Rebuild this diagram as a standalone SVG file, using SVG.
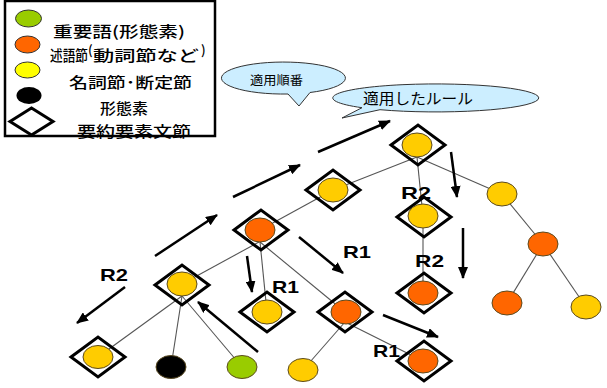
<svg xmlns="http://www.w3.org/2000/svg" width="607" height="388" viewBox="0 0 607 388">
<defs>
<style>
.jp{font-family:"Noto Sans CJK JP","Noto Sans",sans-serif;fill:#000}
.lg{font-weight:500}
.lbl{font-family:"Liberation Sans",Arial,sans-serif;font-weight:bold;font-size:17px;fill:#000}
.dia{fill:none;stroke:#000;stroke-width:3;stroke-linejoin:miter}
.c{stroke:#5a4a20;stroke-width:1}
.y{fill:#FFCC00}.o{fill:#FF6600}.g{fill:#99CC00}.k{fill:#000}
.edge{stroke:#555;stroke-width:1.1;fill:none}
.arr{stroke:#000;stroke-width:2.5;fill:none;marker-end:url(#ah)}
.bub{fill:#CCEEFF;stroke:#333;stroke-width:1}
</style>
<marker id="ah" markerUnits="userSpaceOnUse" markerWidth="12" markerHeight="10" refX="11" refY="5" orient="auto">
<path d="M0,0 L12,5 L0,10 Z" fill="#000"/>
</marker>
<polygon id="dm" points="-27,0 0,-20 27,0 0,20"/>
</defs>
<rect width="607" height="388" fill="#fff"/>

<g id="legend">
<rect x="5" y="1" width="210" height="135" fill="#fff" stroke="#000" stroke-width="2.5"/>
<ellipse cx="28.5" cy="18.5" rx="13" ry="8.5" fill="#99CC00" stroke="#333" stroke-width="1"/>
<ellipse cx="27.5" cy="44.5" rx="12.5" ry="8.5" fill="#FF6600" stroke="#333" stroke-width="1"/>
<ellipse cx="27.5" cy="70" rx="12.5" ry="8" fill="#FFFF00" stroke="#333" stroke-width="1"/>
<ellipse cx="29" cy="95.5" rx="12.5" ry="8.5" fill="#000"/>
<polygon points="10,121.5 31.5,108 53,121.5 31.5,135" fill="#fff" stroke="#000" stroke-width="3"/>
<text class="jp lg" x="53" y="37" font-size="15" textLength="132" lengthAdjust="spacingAndGlyphs">重要語(形態素)</text>
<text class="jp lg" font-size="15"><tspan x="50" y="61" textLength="38" lengthAdjust="spacingAndGlyphs">述語節</tspan><tspan x="88" y="55" font-size="13">(</tspan><tspan x="93" y="61" textLength="106" lengthAdjust="spacingAndGlyphs">動詞節など</tspan><tspan x="201" y="55" font-size="13">)</tspan></text>
<text class="jp lg" x="69" y="88" font-size="15" textLength="123" lengthAdjust="spacingAndGlyphs">名詞節･断定節</text>
<text class="jp lg" x="100" y="114" font-size="15" textLength="48" lengthAdjust="spacingAndGlyphs">形態素</text>
<text class="jp lg" x="77" y="137" font-size="15" textLength="114" lengthAdjust="spacingAndGlyphs">要約要素文節</text>
</g>

<g id="callout-order">
<path class="bub" d="M288,94 A62,16 0 1 1 310,92.5 L299,106 Z"/>
<text class="jp" x="250" y="85" font-size="12.5" textLength="53" lengthAdjust="spacingAndGlyphs">適用順番</text>
</g>
<g id="callout-rule">
<path class="bub" d="M380,109.7 A103,14 0 1 0 362,107.7 L342,118 Z"/>
<text class="jp" x="363" y="104" font-size="15" textLength="110" lengthAdjust="spacingAndGlyphs">適用したルール</text>
</g>

<g id="edges">
<line class="edge" x1="182" y1="296" x2="98" y2="357"/>
<line class="edge" x1="182" y1="296" x2="171" y2="367"/>
<line class="edge" x1="182" y1="296" x2="242" y2="367"/>
<line class="edge" x1="259" y1="242" x2="182" y2="284"/>
<line class="edge" x1="260" y1="242" x2="267" y2="312"/>
<line class="edge" x1="260" y1="242" x2="345" y2="312"/>
<line class="edge" x1="333" y1="190" x2="260" y2="230"/>
<line class="edge" x1="417" y1="157" x2="333" y2="190"/>
<line class="edge" x1="417" y1="157" x2="423" y2="216"/>
<line class="edge" x1="417" y1="157" x2="502" y2="194"/>
<line class="edge" x1="423" y1="216" x2="423" y2="293"/>
<line class="edge" x1="345" y1="322" x2="303" y2="370"/>
<line class="edge" x1="345" y1="322" x2="423" y2="361"/>
<line class="edge" x1="502" y1="194" x2="543" y2="244"/>
<line class="edge" x1="543" y1="244" x2="507" y2="303"/>
<line class="edge" x1="543" y1="244" x2="586" y2="307"/>
</g>

<g id="arrows">
<line class="arr" x1="125" y1="287" x2="77" y2="323"/>
<line class="arr" x1="155" y1="256" x2="217" y2="215"/>
<line class="arr" x1="233" y1="197" x2="300" y2="165"/>
<line class="arr" x1="247" y1="256" x2="252" y2="292"/>
<line class="arr" x1="258" y1="352" x2="198" y2="302"/>
<line class="arr" x1="299" y1="237" x2="343" y2="273"/>
<line class="arr" x1="318" y1="152" x2="390" y2="121"/>
<line class="arr" x1="451" y1="152" x2="457" y2="197"/>
<line class="arr" x1="463" y1="228" x2="463" y2="278"/>
<line class="arr" x1="383" y1="315" x2="438" y2="337"/>
</g>

<g id="nA"><use href="#dm" class="dia" transform="translate(98,357)"/><ellipse class="c y" cx="98" cy="357" rx="15" ry="11.5"/></g>
<g id="nB"><use href="#dm" class="dia" transform="translate(182,285)"/><ellipse class="c y" cx="182" cy="284" rx="15" ry="12"/></g>
<g id="nBlack"><ellipse class="c k" cx="171" cy="367" rx="15" ry="11.5"/></g>
<g id="nGreen"><ellipse class="c g" cx="242" cy="367" rx="15" ry="11.5"/></g>
<g id="nC"><use href="#dm" class="dia" transform="translate(261,230)"/><ellipse class="c o" cx="260" cy="230" rx="15" ry="12"/></g>
<g id="nD"><use href="#dm" class="dia" transform="translate(333,190)"/><ellipse class="c y" cx="333" cy="190" rx="15" ry="12"/></g>
<g id="nE"><use href="#dm" class="dia" transform="translate(267,312)"/><ellipse class="c y" cx="267" cy="312" rx="15" ry="12"/></g>
<g id="nF"><use href="#dm" class="dia" transform="translate(345,312)"/><ellipse class="c o" cx="346" cy="312" rx="15" ry="12"/></g>
<g id="nYb"><ellipse class="c y" cx="303" cy="370" rx="15" ry="11.5"/></g>
<g id="nG"><use href="#dm" class="dia" transform="translate(418,145)"/><ellipse class="c y" cx="417" cy="145" rx="15" ry="12"/></g>
<g id="nH"><use href="#dm" class="dia" transform="translate(424,217)"/><ellipse class="c y" cx="423" cy="216" rx="15" ry="12"/></g>
<g id="nI"><use href="#dm" class="dia" transform="translate(424,293)"/><ellipse class="c o" cx="423" cy="293" rx="15" ry="12"/></g>
<g id="nJ"><use href="#dm" class="dia" transform="translate(424,361)"/><ellipse class="c o" cx="423" cy="361" rx="15" ry="12"/></g>
<g id="nK"><ellipse class="c y" cx="502" cy="194" rx="15" ry="12"/></g>
<g id="nL"><ellipse class="c o" cx="543" cy="244" rx="15" ry="12"/></g>
<g id="nM"><ellipse class="c o" cx="507" cy="303" rx="15" ry="12"/></g>
<g id="nN"><ellipse class="c y" cx="586" cy="307" rx="15" ry="12"/></g>

<g id="labels">
<text class="lbl" x="100" y="281" textLength="28" lengthAdjust="spacingAndGlyphs">R2</text>
<text class="lbl" x="272" y="293" textLength="27" lengthAdjust="spacingAndGlyphs">R1</text>
<text class="lbl" x="343" y="258" textLength="28" lengthAdjust="spacingAndGlyphs">R1</text>
<text class="lbl" x="401" y="199" textLength="30" lengthAdjust="spacingAndGlyphs">R2</text>
<text class="lbl" x="415" y="267" textLength="29" lengthAdjust="spacingAndGlyphs">R2</text>
<text class="lbl" x="373" y="357" textLength="27" lengthAdjust="spacingAndGlyphs">R1</text>
</g>
</svg>
